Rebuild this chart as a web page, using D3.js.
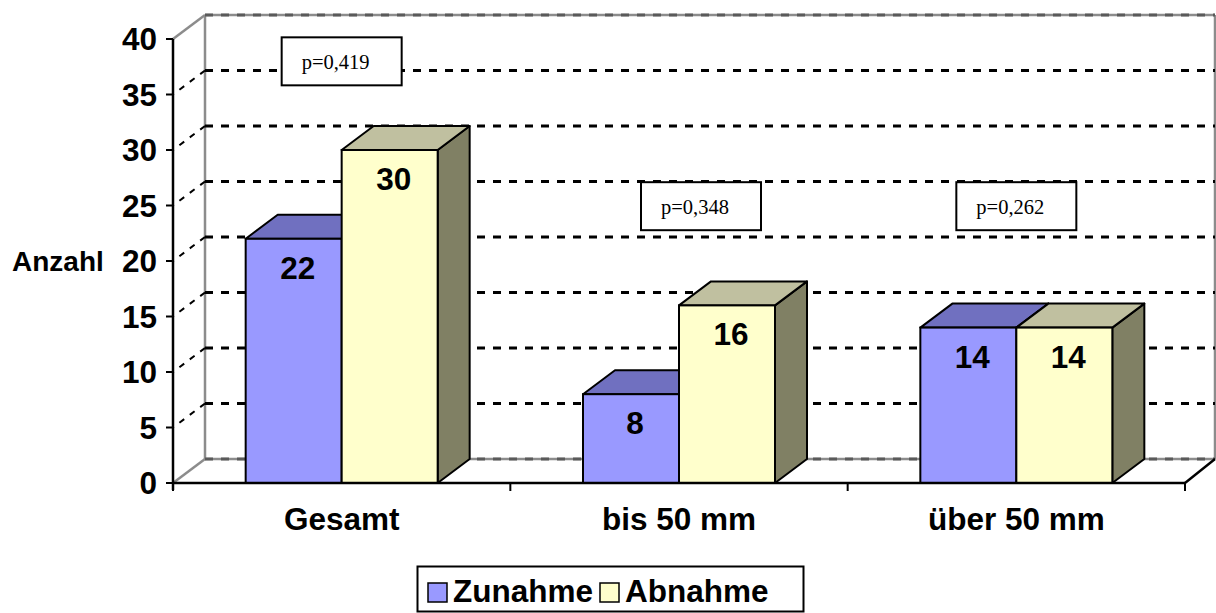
<!DOCTYPE html>
<html>
<head>
<meta charset="utf-8">
<script src="https://cdn.jsdelivr.net/npm/d3@7"></script>
<style>
  body { margin: 0; background: #fff; }
  text { font-family: "Liberation Sans", Arial, sans-serif; }
</style>
</head>
<body>
<svg id="chart" width="1216" height="613"></svg>
<script>
// Data
const categories = ["Gesamt", "bis 50 mm", "über 50 mm"];
const seriesNames = ["Zunahme", "Abnahme"];
const zunahme = [22, 8, 14];
const abnahme = [30, 16, 14];
const pValues = ["p=0,419", "p=0,348", "p=0,262"];
const yTicks = [0, 5, 10, 15, 20, 25, 30, 35, 40];

// Layout
const W = 1216, H = 613;
const x0 = 173, x1 = 1185;          // front floor edge
const yBottom = 483, yTop = 39;      // front value range
const DX = 32, DY = 24;              // depth offset of the 3D box
const backRight = 1215;

const faceColors = {
  Zunahme: { front: "#9999FF", top: "#7070C0", side: "#5C5CA0" },
  Abnahme: { front: "#FFFFCC", top: "#C0C0A0", side: "#808064" }
};

const svg = d3.select("#chart");
svg.append("rect").attr("width", W).attr("height", H).attr("fill", "#fff");

const y = d3.scaleLinear().domain([0, 40]).range([yBottom, yTop]);
const x = d3.scaleBand().domain(categories).range([x0, x1]).paddingInner(0).paddingOuter(0);
const xs = d3.scaleBand().domain(seriesNames).range([0, x.bandwidth()])
  .paddingInner(0).paddingOuter(0.757);

const g = svg.append("g");

// Back wall borders (grey)
g.append("line").attr("x1", x0 + DX).attr("x2", x0 + DX)
  .attr("y1", y(40) - DY).attr("y2", y(0) - DY)
  .attr("stroke", "#8c8c8c").attr("stroke-width", 2.5);
g.append("line").attr("x1", backRight).attr("x2", backRight)
  .attr("y1", y(40) - DY).attr("y2", y(0) - DY)
  .attr("stroke", "#8c8c8c").attr("stroke-width", 2.5);
[0, 40].forEach(v => {
  g.append("line").attr("x1", x0 + DX).attr("x2", backRight)
    .attr("y1", y(v) - DY).attr("y2", y(v) - DY)
    .attr("stroke", "#8c8c8c").attr("stroke-width", 2.5);
});
// Left wall edges
g.append("line").attr("x1", x0).attr("y1", y(40)).attr("x2", x0 + DX).attr("y2", y(40) - DY)
  .attr("stroke", "#8c8c8c").attr("stroke-width", 2.5);
g.append("line").attr("x1", x0).attr("y1", y(0)).attr("x2", x0 + DX).attr("y2", y(0) - DY)
  .attr("stroke", "#8c8c8c").attr("stroke-width", 2.5);

// Gridlines on back wall
g.selectAll("line.grid").data(yTicks).join("line")
  .attr("class", "grid")
  .attr("x1", x0 + DX).attr("x2", backRight)
  .attr("y1", d => y(d) - DY).attr("y2", d => y(d) - DY)
  .attr("stroke", d => (d === 0 || d === 40) ? "#5a5a5a" : "#000")
  .attr("stroke-width", 2.8)
  .attr("stroke-dasharray", "8,8");
// Gridlines on left wall
g.selectAll("line.sgrid").data(yTicks.filter(d => d > 0 && d < 40)).join("line")
  .attr("class", "sgrid")
  .attr("x1", x0).attr("y1", d => y(d))
  .attr("x2", x0 + DX).attr("y2", d => y(d) - DY)
  .attr("stroke", "#000").attr("stroke-width", 2)
  .attr("stroke-dasharray", "6,7").attr("stroke-dashoffset", -8);

// Floor right edge
g.append("line").attr("x1", x1).attr("y1", y(0)).attr("x2", backRight).attr("y2", y(0) - DY)
  .attr("stroke", "#000").attr("stroke-width", 2.5);

// Bars
function drawBar(cat, s, v) {
  const bx = x(cat) + xs(s), bw = xs.bandwidth();
  const yt = y(v), yb = y(0);
  const c = faceColors[s];
  const bar = g.append("g");
  bar.append("polygon")
    .attr("points", [[bx + bw, yt], [bx + bw + DX, yt - DY], [bx + bw + DX, yb - DY], [bx + bw, yb]].join(" "))
    .attr("fill", c.side).attr("stroke", "#000").attr("stroke-width", 2).attr("stroke-linejoin", "round");
  bar.append("polygon")
    .attr("points", [[bx, yt], [bx + DX, yt - DY], [bx + bw + DX, yt - DY], [bx + bw, yt]].join(" "))
    .attr("fill", c.top).attr("stroke", "#000").attr("stroke-width", 2).attr("stroke-linejoin", "round");
  bar.append("rect")
    .attr("x", bx).attr("y", yt).attr("width", bw).attr("height", yb - yt)
    .attr("fill", c.front).attr("stroke", "#000").attr("stroke-width", 2);
  bar.append("text")
    .attr("x", bx + bw / 2 + 4).attr("y", yt + 40)
    .attr("text-anchor", "middle")
    .attr("font-size", 31.5).attr("font-weight", "bold")
    .text(v);
}
categories.forEach((cat, i) => {
  drawBar(cat, "Zunahme", zunahme[i]);
  drawBar(cat, "Abnahme", abnahme[i]);
});

// Front axes
g.append("line").attr("x1", x0).attr("x2", x1).attr("y1", y(0)).attr("y2", y(0))
  .attr("stroke", "#000").attr("stroke-width", 2.5);
g.append("line").attr("x1", x0).attr("x2", x0).attr("y1", y(40)).attr("y2", y(0) + 7)
  .attr("stroke", "#000").attr("stroke-width", 2.5);
g.selectAll("line.ytick").data(yTicks).join("line")
  .attr("class", "ytick")
  .attr("x1", x0 - 7).attr("x2", x0).attr("y1", d => y(d)).attr("y2", d => y(d))
  .attr("stroke", "#000").attr("stroke-width", 2);
g.selectAll("text.ylab").data(yTicks).join("text")
  .attr("class", "ylab")
  .attr("x", 157).attr("y", d => y(d) + 11)
  .attr("text-anchor", "end")
  .attr("font-size", 31.5).attr("font-weight", "bold")
  .text(d => d);
const catEdges = categories.map(c => x(c)).concat([x1]);
g.selectAll("line.xtick").data(catEdges).join("line")
  .attr("class", "xtick")
  .attr("x1", d => d).attr("x2", d => d).attr("y1", y(0)).attr("y2", y(0) + 8)
  .attr("stroke", "#000").attr("stroke-width", 2);
g.selectAll("text.xlab").data(categories).join("text")
  .attr("class", "xlab")
  .attr("x", d => x(d) + x.bandwidth() / 2).attr("y", 530)
  .attr("text-anchor", "middle")
  .attr("font-size", 31.5).attr("font-weight", "bold")
  .text(d => d);

// Axis title
g.append("text").attr("x", 12).attr("y", 270.5)
  .attr("font-size", 28).attr("font-weight", "bold").text("Anzahl");

// p-value annotation boxes
const boxTopValue = [40.15, 27.1, 27.1];
const boxShift = [0, 22, 0];
pValues.forEach((p, i) => {
  const cx = x(categories[i]) + x.bandwidth() / 2 + boxShift[i];
  const top = y(boxTopValue[i]);
  g.append("rect").attr("x", cx - 60).attr("y", top).attr("width", 120).attr("height", 48)
    .attr("fill", "#fff").attr("stroke", "#000").attr("stroke-width", 2);
  g.append("text").attr("x", cx - 40).attr("y", top + 32)
    .style("font-family", "'Liberation Serif', 'Times New Roman', serif")
    .attr("font-size", 20.5).text(p);
});

// Legend
const lg = svg.append("g");
lg.append("rect").attr("x", 417.5).attr("y", 566.5).attr("width", 386).attr("height", 45)
  .attr("fill", "#fff").attr("stroke", "#000").attr("stroke-width", 2);
const legendX = [428, 600];
seriesNames.forEach((s, i) => {
  lg.append("rect").attr("x", legendX[i]).attr("y", 583).attr("width", 19).attr("height", 19)
    .attr("fill", faceColors[s].front).attr("stroke", "#000").attr("stroke-width", 1.5);
  lg.append("text").attr("x", legendX[i] + 25).attr("y", 602)
    .attr("font-size", 31.5).attr("font-weight", "bold")
    .text(s);
});
</script>
</body>
</html>
